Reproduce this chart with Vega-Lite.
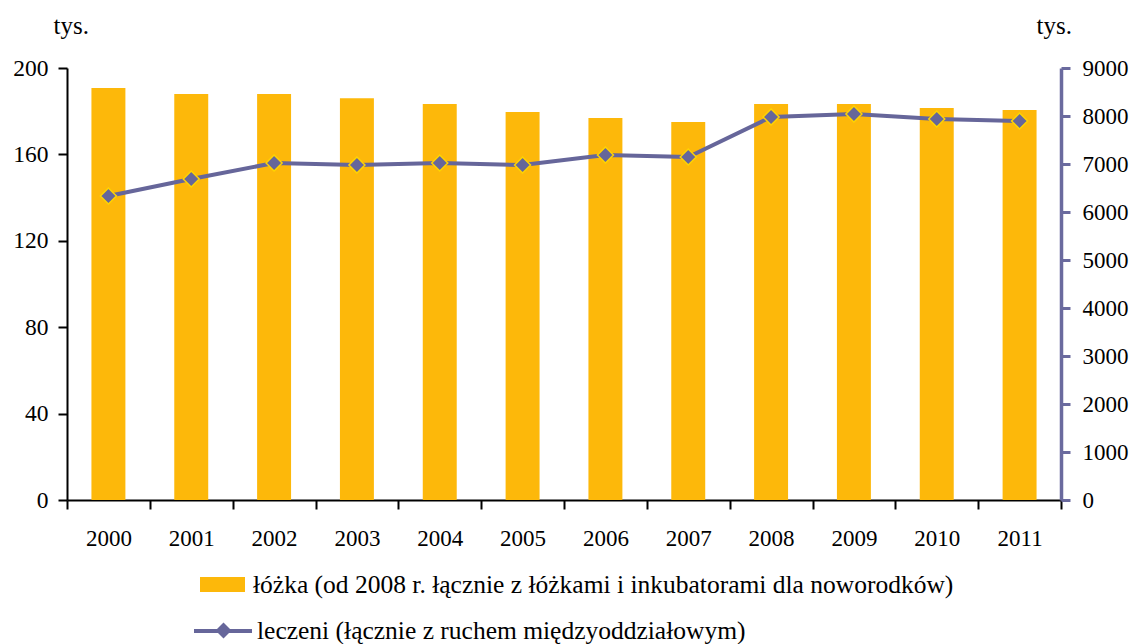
{
  "$schema": "https://vega.github.io/schema/vega-lite/v6.json",
  "autosize": "none",
  "padding": {"left": 67, "top": 68, "right": 73, "bottom": 144},
  "width": 994,
  "height": 432,
  "background": "white",
  "config": {
    "view": {"stroke": null},
    "font": "Liberation Serif",
    "axis": {"labelFont": "Liberation Serif", "titleFont": "Liberation Serif", "labelColor": "black", "titleColor": "black", "grid": false},
    "legend": {"labelFont": "Liberation Serif"}
  },
  "data": {
    "values": [
      {"rok": "2000", "lozka": 190.7, "leczeni": 6333},
      {"rok": "2001", "lozka": 188.0, "leczeni": 6688},
      {"rok": "2002", "lozka": 188.0, "leczeni": 7021},
      {"rok": "2003", "lozka": 186.0, "leczeni": 6979},
      {"rok": "2004", "lozka": 183.3, "leczeni": 7021},
      {"rok": "2005", "lozka": 179.6, "leczeni": 6979},
      {"rok": "2006", "lozka": 176.9, "leczeni": 7188},
      {"rok": "2007", "lozka": 175.0, "leczeni": 7146},
      {"rok": "2008", "lozka": 183.3, "leczeni": 7979},
      {"rok": "2009", "lozka": 183.3, "leczeni": 8042},
      {"rok": "2010", "lozka": 181.5, "leczeni": 7938},
      {"rok": "2011", "lozka": 180.6, "leczeni": 7896}
    ]
  },
  "encoding": {
    "x": {
      "field": "rok", "type": "nominal", "title": null,
      "scale": {"type": "band", "paddingInner": 0, "paddingOuter": 0},
      "axis": {"labelAngle": 0, "labelFont": "Liberation Serif", "labelFontSize": 23, "tickBand": "extent", "tickSize": 9, "tickColor": "black", "tickWidth": 2, "domainColor": "black", "domainWidth": 2, "labelPadding": 18}
    }
  },
  "layer": [
    {
      "mark": {"type": "bar", "width": {"band": 0.41}},
      "encoding": {
        "y": {
          "field": "lozka", "type": "quantitative",
          "scale": {"domain": [0, 200], "nice": false},
          "axis": {"values": [0, 40, 80, 120, 160, 200], "format": "d", "title": "tys.", "titleFont": "Liberation Serif", "titleAngle": 0, "titleX": -14, "titleY": -35, "titleAlign": "left", "titleBaseline": "alphabetic", "titleFontSize": 25, "titleFontWeight": "normal", "labelFont": "Liberation Serif", "labelFontSize": 23.5, "tickSize": 9, "tickWidth": 2, "tickColor": "black", "domainColor": "black", "domainWidth": 2, "labelPadding": 10}
        },
        "fill": {
          "datum": "łóżka (od 2008 r. łącznie z łóżkami i inkubatorami dla noworodków)",
          "type": "nominal",
          "scale": {"range": ["#FDB80A"]},
          "legend": {"orient": "none", "legendX": 133, "legendY": 494, "title": null, "padding": 0, "symbolType": "M-1,-0.33H1V0.33H-1Z", "symbolSize": 2025, "symbolStrokeWidth": 0, "labelFont": "Liberation Serif", "labelFontSize": 25.5, "labelOffset": 8, "labelLimit": 1000}
        }
      }
    },
    {
      "layer": [
        {
          "mark": {"type": "line", "strokeWidth": 4},
          "encoding": {
            "y": {
              "field": "leczeni", "type": "quantitative",
              "scale": {"domain": [0, 9000], "nice": false},
              "axis": {"orient": "right", "values": [0, 1000, 2000, 3000, 4000, 5000, 6000, 7000, 8000, 9000], "format": "d", "title": "tys.", "titleFont": "Liberation Serif", "titleAngle": 0, "titleX": -25, "titleY": -35, "titleAlign": "left", "titleBaseline": "alphabetic", "titleFontSize": 25, "titleFontWeight": "normal", "labelFont": "Liberation Serif", "labelFontSize": 23, "tickSize": 9, "tickWidth": 3, "tickColor": "#6A6A9E", "domainColor": "#6A6A9E", "domainWidth": 3.5, "labelPadding": 12}
            },
            "stroke": {
              "datum": "leczeni (łącznie z ruchem międzyoddziałowym)",
              "type": "nominal",
              "scale": {"range": ["#66669A"]},
              "legend": {"orient": "none", "legendX": 125, "legendY": 532, "title": null, "padding": 0, "symbolType": "M-1,0H1", "symbolSize": 3364, "symbolStrokeWidth": 4, "symbolStrokeColor": "#66669A", "labelFont": "Liberation Serif", "labelFontSize": 25.5, "labelOffset": 3, "labelLimit": 1000}
            }
          }
        },
        {
          "mark": {"type": "point", "filled": true, "fill": "#66669A", "stroke": "#FFD400", "strokeWidth": 1.5, "size": 256, "opacity": 1},
          "encoding": {
            "y": {"field": "leczeni", "type": "quantitative"},
            "shape": {
              "datum": "p",
              "type": "nominal",
              "scale": {"range": ["diamond"]},
              "legend": {"orient": "none", "legendX": 146, "legendY": 552, "title": null, "padding": 0, "symbolSize": 256, "symbolFillColor": "#66669A", "symbolStrokeColor": "#FFD400", "symbolStrokeWidth": 1.5, "labelFontSize": 21, "labelOpacity": 0}
            }
          }
        }
      ]
    }
  ],
  "resolve": {"scale": {"y": "independent"}}
}
